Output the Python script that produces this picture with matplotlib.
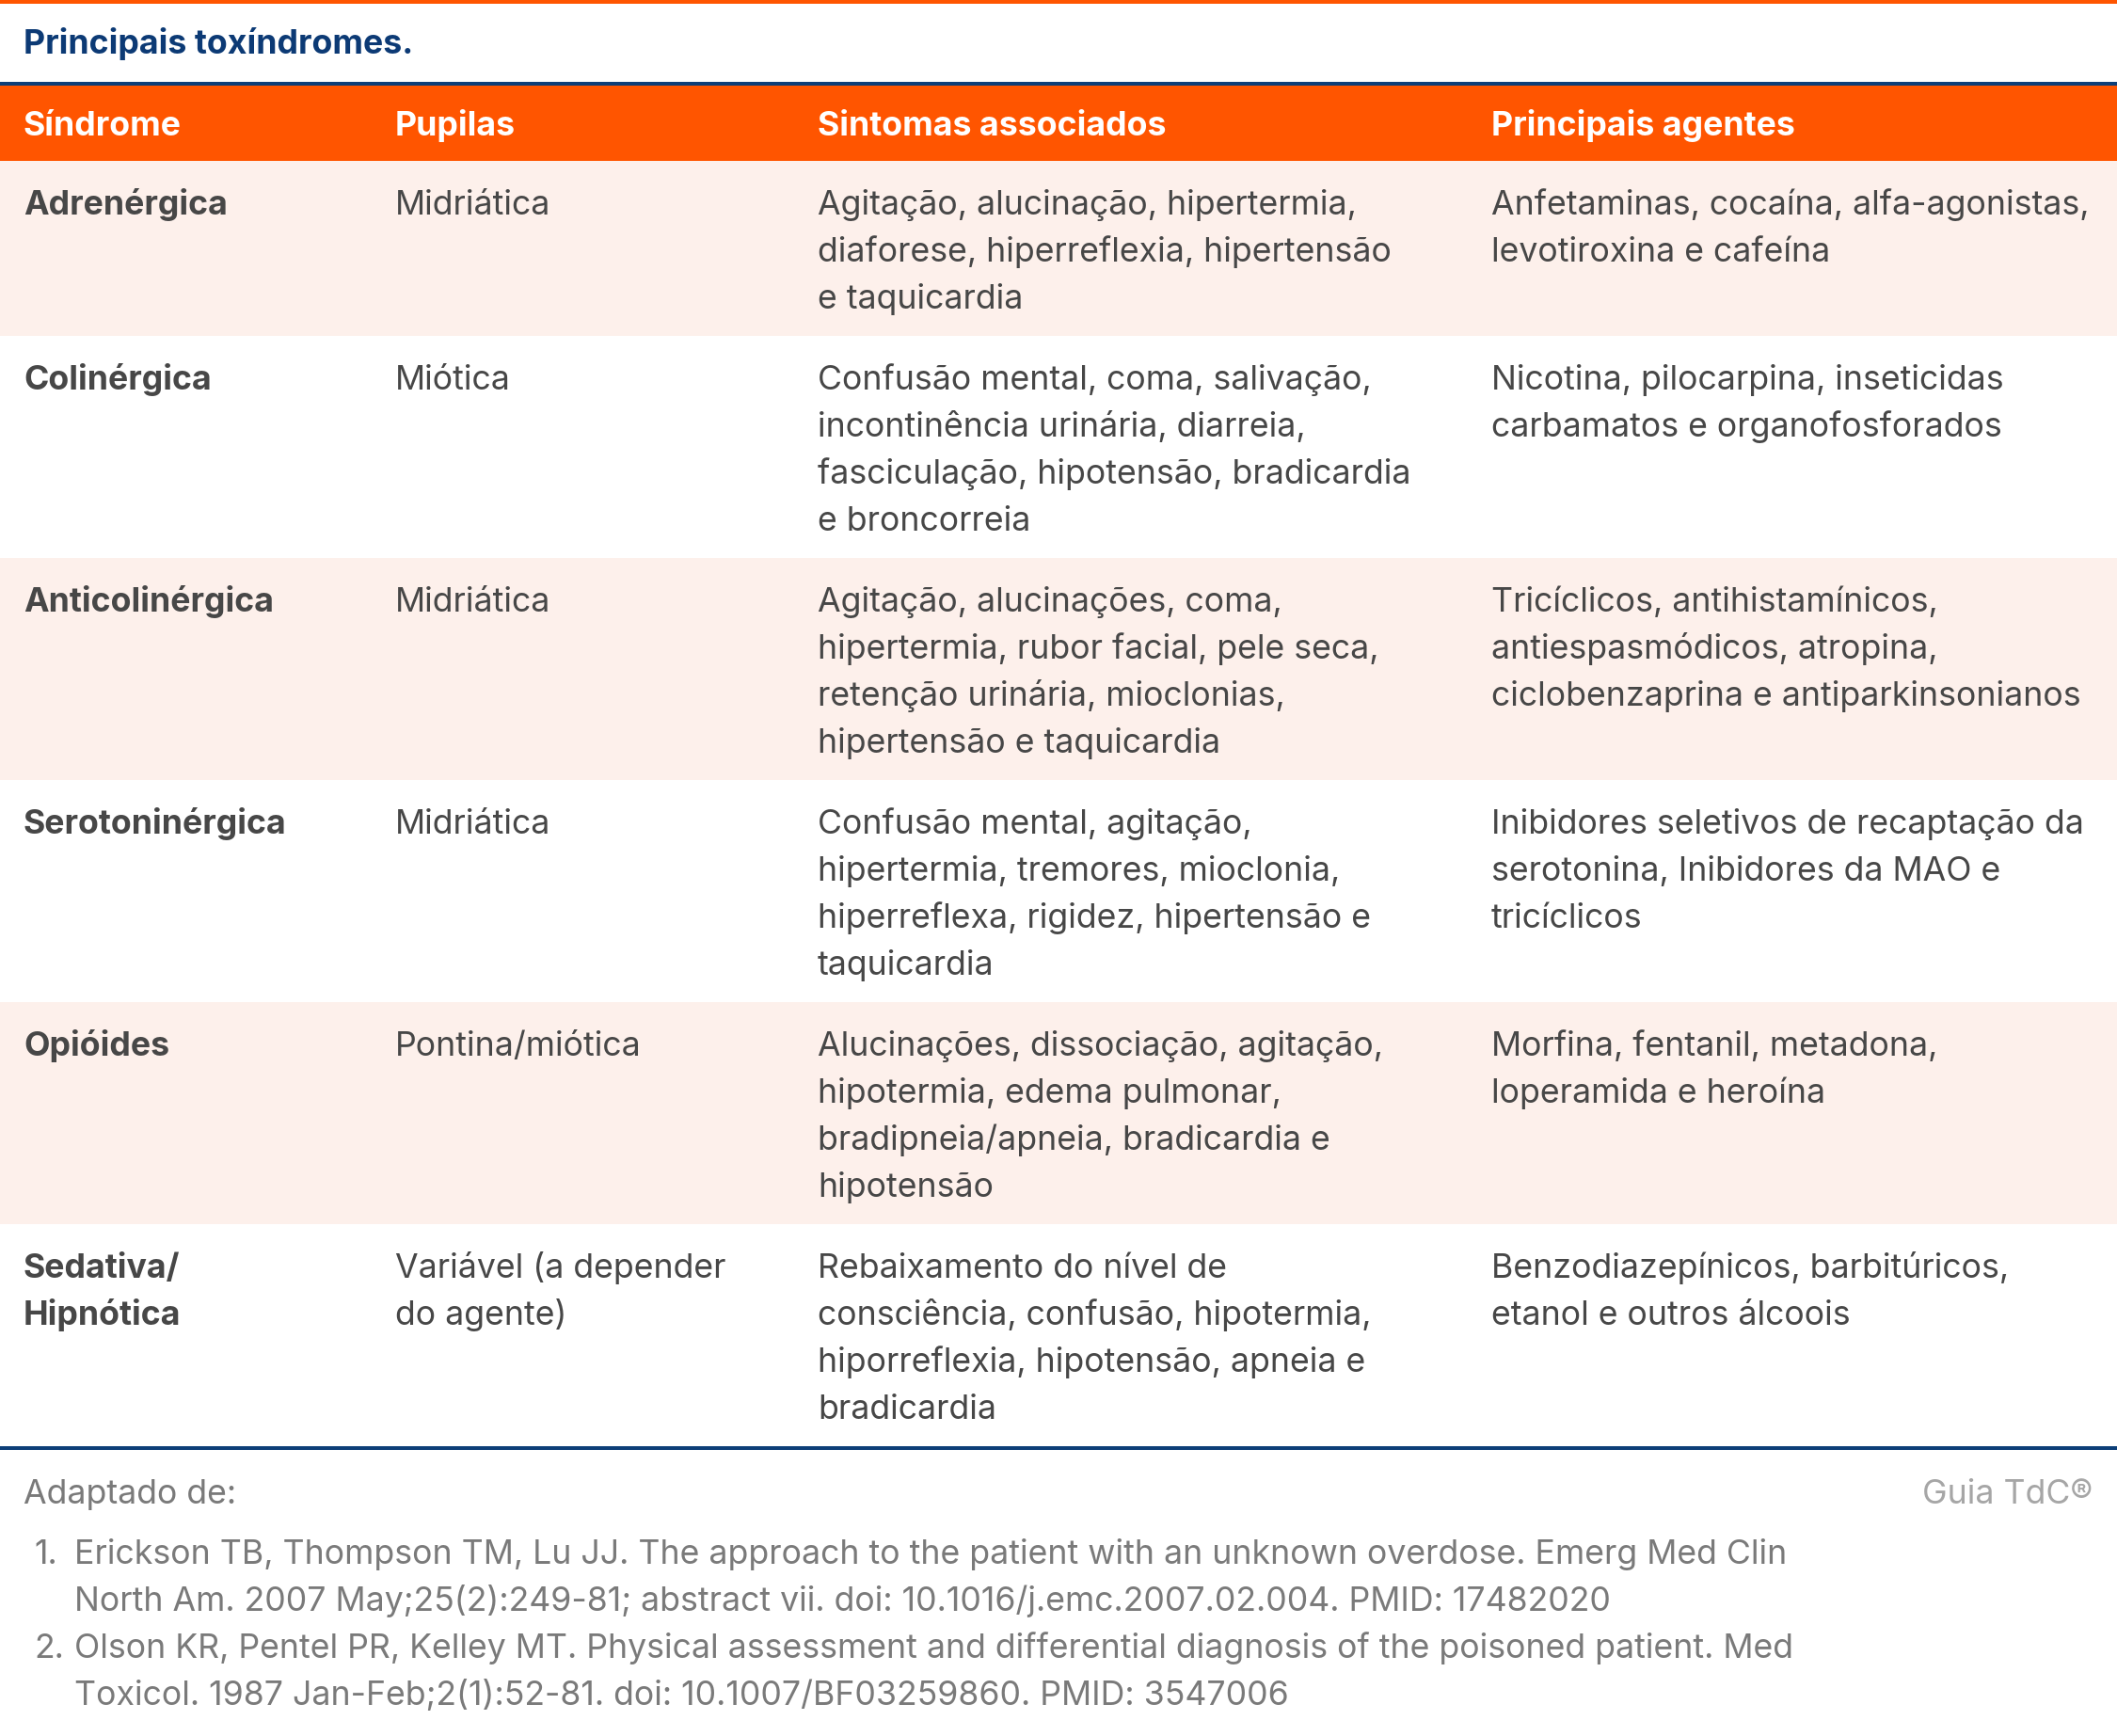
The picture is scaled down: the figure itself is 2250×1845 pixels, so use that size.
import matplotlib.pyplot as plt
from matplotlib.patches import Rectangle

plt.rcParams['font.family'] = ['Inter', 'DejaVu Sans']

title = "Principais toxíndromes."
headers = ["Síndrome", "Pupilas", "Sintomas associados", "Principais agentes"]

sindromes = [["Adrenérgica"], ["Colinérgica"], ["Anticolinérgica"], ["Serotoninérgica"],
             ["Opióides"], ["Sedativa/", "Hipnótica"]]
pupilas = [["Midriática"], ["Miótica"], ["Midriática"], ["Midriática"],
           ["Pontina/miótica"], ["Variável (a depender", "do agente)"]]
sintomas = [
    ["Agitação, alucinação, hipertermia,", "diaforese, hiperreflexia, hipertensão", "e taquicardia"],
    ["Confusão mental, coma, salivação,", "incontinência urinária, diarreia,",
     "fasciculação, hipotensão, bradicardia", "e broncorreia"],
    ["Agitação, alucinações, coma,", "hipertermia, rubor facial, pele seca,",
     "retenção urinária, mioclonias,", "hipertensão e taquicardia"],
    ["Confusão mental, agitação,", "hipertermia, tremores, mioclonia,",
     "hiperreflexa, rigidez, hipertensão e", "taquicardia"],
    ["Alucinações, dissociação, agitação,", "hipotermia, edema pulmonar,",
     "bradipneia/apneia, bradicardia e", "hipotensão"],
    ["Rebaixamento do nível de", "consciência, confusão, hipotermia,",
     "hiporreflexia, hipotensão, apneia e", "bradicardia"],
]
agentes = [
    ["Anfetaminas, cocaína, alfa-agonistas,", "levotiroxina e cafeína"],
    ["Nicotina, pilocarpina, inseticidas", "carbamatos e organofosforados"],
    ["Tricíclicos, antihistamínicos,", "antiespasmódicos, atropina,", "ciclobenzaprina e antiparkinsonianos"],
    ["Inibidores seletivos de recaptação da", "serotonina, Inibidores da MAO e", "tricíclicos"],
    ["Morfina, fentanil, metadona,", "loperamida e heroína"],
    ["Benzodiazepínicos, barbitúricos,", "etanol e outros álcoois"],
]

fonte_label = "Adaptado de:"
marca = "Guia TdC®"
referencias = [
    ["Erickson TB, Thompson TM, Lu JJ. The approach to the patient with an unknown overdose. Emerg Med Clin",
     "North Am. 2007 May;25(2):249-81; abstract vii. doi: 10.1016/j.emc.2007.02.004. PMID: 17482020"],
    ["Olson KR, Pentel PR, Kelley MT. Physical assessment and differential diagnosis of the poisoned patient. Med",
     "Toxicol. 1987 Jan-Feb;2(1):52-81. doi: 10.1007/BF03259860. PMID: 3547006"],
]

orange = "#FF5500"
pink = "#FDF0EB"
navy = "#0D3F78"
txt = "#474747"
grey = "#7A7A7A"

W, H = 2250, 1845
fig = plt.figure(figsize=(W / 100, H / 100), dpi=100)
ax = fig.add_axes([0, 0, 1, 1])
ax.set_xlim(0, W)
ax.set_ylim(H, 0)
ax.axis('off')

fs = 25.7
col_x = [25, 420, 869, 1585]
line_h = 50

# top bar and title
ax.add_patch(Rectangle((0, 0), W, 4, color=orange, lw=0))
ax.text(25, 57, title, fontsize=fs, fontweight='bold', color="#0C3A75", va='baseline')
ax.add_patch(Rectangle((0, 87), W, 4, color=navy, lw=0))

# header
ax.add_patch(Rectangle((0, 91), W, 80, color=orange, lw=0))
for x, h in zip(col_x, headers):
    ax.text(x, 144, h, fontsize=fs, fontweight='bold', color='white', va='baseline')

# body rows
y = 171
for i in range(len(sindromes)):
    cells = [sindromes[i], pupilas[i], sintomas[i], agentes[i]]
    n = max(len(c) for c in cells)
    rh = 36 + line_h * n
    if i % 2 == 0:
        ax.add_patch(Rectangle((0, y), W, rh, color=pink, lw=0))
    for j, (x, cell) in enumerate(zip(col_x, cells)):
        for k, line in enumerate(cell):
            ax.text(x, y + 57 + k * line_h, line, fontsize=fs, color=txt, va='baseline',
                    fontweight='bold' if j == 0 else 'normal')
    y += rh

ax.add_patch(Rectangle((0, y), W, 4, color=navy, lw=0))

# footer
ax.text(25, y + 61, fonte_label, fontsize=fs, color=grey, va='baseline')
ax.text(2224, y + 61, marca, fontsize=fs, color="#A6A6A6", va='baseline', ha='right')
ry = y + 125
for n, ref in enumerate(referencias):
    ax.text(36, ry, f"{n + 1}.", fontsize=fs, color=grey, va='baseline')
    for line in ref:
        ax.text(79, ry, line, fontsize=fs, color=grey, va='baseline')
        ry += line_h

fig.savefig("out.png", dpi=100)
